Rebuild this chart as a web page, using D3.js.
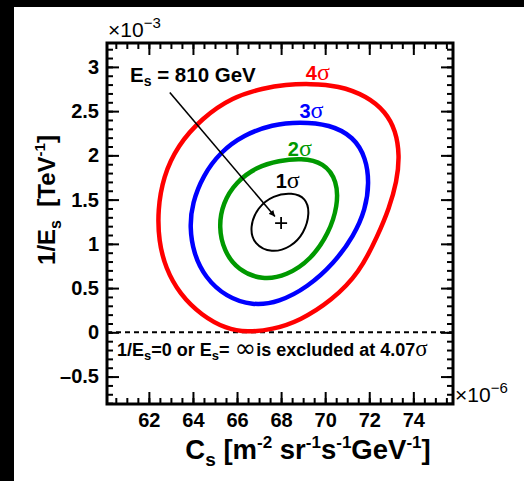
<!DOCTYPE html>
<html>
<head>
<meta charset="utf-8">
<script src="https://cdn.jsdelivr.net/npm/d3@7"></script>
<style>
  body { margin: 0; background: #000; }
  svg { display: block; }
  text { font-family: "Liberation Sans", Arial, sans-serif; }
</style>
</head>
<body>
<svg width="524" height="481"></svg>
<script>
// contour points: [C_s (1e-6), 1/E_s (1e-3)]
const sigma4 = [
  [69.3, 2.81], [68.2, 2.80], [67.2, 2.76], [65.8, 2.66], [64.4, 2.42], [63.3, 2.11],
  [62.65, 1.76], [62.4, 1.38], [62.45, 1.03], [62.75, 0.73], [63.4, 0.43],
  [64.4, 0.19], [65.5, 0.04], [66.45, 0.0], [67.6, 0.03], [68.85, 0.13],
  [70.3, 0.36], [71.55, 0.67], [72.4, 1.10], [72.9, 1.40], [73.25, 1.70],
  [73.38, 2.0], [73.2, 2.28], [72.75, 2.49], [71.9, 2.67], [70.6, 2.79]
];
const sigma3 = [
  [68.85, 2.38], [67.6, 2.35], [66.3, 2.23], [65.25, 2.04], [64.45, 1.77],
  [63.97, 1.46], [63.85, 1.19], [64.03, 0.89], [64.55, 0.62], [65.5, 0.40],
  [66.7, 0.30], [67.9, 0.34], [69.2, 0.51], [70.4, 0.78], [71.3, 1.09],
  [71.83, 1.39], [72.0, 1.69], [71.85, 1.97], [71.3, 2.21], [70.2, 2.35]
];
const sigma2 = [
  [68.9, 1.97], [67.9, 1.94], [66.9, 1.87], [65.95, 1.70], [65.35, 1.46],
  [65.17, 1.19], [65.4, 0.92], [66.05, 0.70], [67.15, 0.59], [68.25, 0.64],
  [69.35, 0.82], [70.17, 1.12], [70.57, 1.43], [70.55, 1.71], [69.95, 1.92]
];
const sigma1 = [
  [68.5, 1.58], [67.64, 1.55], [66.92, 1.41], [66.57, 1.19], [66.77, 0.99],
  [67.57, 0.895], [68.44, 0.96], [69.05, 1.12], [69.31, 1.35], [69.12, 1.52]
];
const bestFit = [68.0, 1.235];
const arrowFrom = [62.95, 2.71];
const arrowTo = [67.72, 1.31];

const contours = [
  { pts: sigma4, color: "#ff0000", width: 4.5, label: "4", at: [69.67, 2.85] },
  { pts: sigma3, color: "#0000ff", width: 4.5, label: "3", at: [69.38, 2.42] },
  { pts: sigma2, color: "#009900", width: 4.5, label: "2", at: [68.85, 1.99] },
  { pts: sigma1, color: "#000000", width: 2, label: "1", at: [68.3, 1.63] }
];

const xMajor = [62, 64, 66, 68, 70, 72, 74];
const yMajor = [-0.5, 0, 0.5, 1, 1.5, 2, 2.5, 3];
const xMinor = d3.range(60.5, 75.8, 0.5);
const yMinor = d3.range(-0.8, 3.27, 0.1).map(v => +v.toFixed(1));

const svg = d3.select("svg");
svg.append("rect").attr("x", 14).attr("y", 7).attr("width", 510).attr("height", 474).attr("fill", "#fff");

const L = 107, R = 453, T = 43, B = 404;
const x = d3.scaleLinear().domain([60.1, 75.8]).range([L, R]);
const y = d3.scaleLinear().domain([-0.81, 3.27]).range([B, T]);

// dashed zero line
svg.append("line")
  .attr("x1", L).attr("x2", R).attr("y1", y(0)).attr("y2", y(0))
  .attr("stroke", "#000").attr("stroke-width", 2).attr("stroke-dasharray", "5,4");

// contours
const line = d3.line().x(d => x(d[0])).y(d => y(d[1])).curve(d3.curveBasisClosed);
contours.forEach(c => {
  svg.append("path").attr("d", line(c.pts))
    .attr("fill", "none").attr("stroke", c.color).attr("stroke-width", c.width);
  const t = svg.append("text")
    .attr("x", x(c.at[0])).attr("y", y(c.at[1]))
    .attr("text-anchor", "middle").attr("fill", c.color)
    .attr("font-size", 20).attr("font-weight", "bold");
  t.append("tspan").text(c.label);
  t.append("tspan").attr("font-family", "Liberation Serif, serif").attr("font-weight", "normal").attr("font-size", 24).text("σ");
});

// best fit marker
const cx = x(bestFit[0]), cy = y(bestFit[1]);
svg.append("path").attr("d", `M${cx - 6},${cy}H${cx + 6}M${cx},${cy - 6}V${cy + 6}`)
  .attr("stroke", "#000").attr("stroke-width", 1.8);

// arrow
svg.append("defs").append("marker").attr("id", "ah")
  .attr("viewBox", "0 0 10 10").attr("refX", 10).attr("refY", 5)
  .attr("markerWidth", 8).attr("markerHeight", 6).attr("markerUnits", "userSpaceOnUse")
  .attr("orient", "auto")
  .append("path").attr("d", "M0,0L10,5L0,10z").attr("fill", "#000");
svg.append("line")
  .attr("x1", x(arrowFrom[0])).attr("y1", y(arrowFrom[1]))
  .attr("x2", x(arrowTo[0])).attr("y2", y(arrowTo[1]))
  .attr("stroke", "#000").attr("stroke-width", 1.6).attr("marker-end", "url(#ah)");

// annotation texts
const es = svg.append("text").attr("x", 130).attr("y", 82).attr("font-size", 20.5).attr("font-weight", "bold");
es.append("tspan").text("E");
es.append("tspan").attr("font-size", 14).attr("dy", 4).text("s");
es.append("tspan").attr("dy", -4).text(" = 810 GeV");

const ex = svg.append("text").attr("x", 117).attr("y", 356).attr("font-size", 18).attr("font-weight", "bold")
  .attr("xml:space", "preserve");
ex.append("tspan").text("1/E");
ex.append("tspan").attr("font-size", 13).attr("dy", 4).text("s");
ex.append("tspan").attr("dy", -4).text("=0 or E");
ex.append("tspan").attr("font-size", 13).attr("dy", 4).text("s");
ex.append("tspan").attr("dy", -4).text("= ");
ex.append("tspan").attr("font-family", "DejaVu Sans").attr("font-weight", "normal").attr("font-size", 26).attr("dy", 1).text("∞");
ex.append("tspan").attr("dy", -1).text("is excluded at 4.07");
ex.append("tspan").attr("font-family", "Liberation Serif, serif").attr("font-weight", "normal").attr("font-size", 23).text("σ");

// axes: ticks pointing inward on all four sides
function ticks(axis, vals, len) {
  return axis.tickValues(vals).tickSize(-len).tickFormat("");
}
const g = svg.append("g");
g.append("g").attr("transform", `translate(0,${B})`).call(ticks(d3.axisBottom(x), xMinor, 6));
g.append("g").attr("transform", `translate(0,${B})`).call(ticks(d3.axisBottom(x), xMajor, 12));
g.append("g").attr("transform", `translate(0,${T})`).call(ticks(d3.axisTop(x), xMinor, 6));
g.append("g").attr("transform", `translate(0,${T})`).call(ticks(d3.axisTop(x), xMajor, 12));
g.append("g").attr("transform", `translate(${L},0)`).call(ticks(d3.axisLeft(y), yMinor, 6));
g.append("g").attr("transform", `translate(${L},0)`).call(ticks(d3.axisLeft(y), yMajor, 12));
g.append("g").attr("transform", `translate(${R},0)`).call(ticks(d3.axisRight(y), yMinor, 6));
g.append("g").attr("transform", `translate(${R},0)`).call(ticks(d3.axisRight(y), yMajor, 12));
g.selectAll(".domain").remove();
g.selectAll(".tick line").attr("stroke", "#000").attr("stroke-width", 2);

// tick labels
const xl = svg.append("g").attr("transform", `translate(0,${B})`)
  .call(d3.axisBottom(x).tickValues(xMajor).tickSize(0).tickPadding(9).tickFormat(d3.format("d")));
const yl = svg.append("g").attr("transform", `translate(${L},0)`)
  .call(d3.axisLeft(y).tickValues(yMajor).tickSize(0).tickPadding(8)
    .tickFormat(d => d < 0 ? "–" + Math.abs(d) : String(d)));
[xl, yl].forEach(a => {
  a.select(".domain").remove();
  a.selectAll("text").attr("font-family", "Liberation Sans, Arial, sans-serif")
    .attr("font-size", 20).attr("font-weight", "bold").attr("fill", "#000");
});

// frame
svg.append("rect").attr("x", L).attr("y", T).attr("width", R - L).attr("height", B - T)
  .attr("fill", "none").attr("stroke", "#000").attr("stroke-width", 3);

// exponent labels
const e3 = svg.append("text").attr("x", 108).attr("y", 37).attr("font-size", 21);
e3.append("tspan").text("×10");
e3.append("tspan").attr("font-size", 15).attr("dy", -9).text("−3");
const e6 = svg.append("text").attr("x", 455).attr("y", 402).attr("font-size", 21);
e6.append("tspan").text("×10");
e6.append("tspan").attr("font-size", 15).attr("dy", -9).text("−6");

// axis titles
const xt = svg.append("text").attr("x", 308).attr("y", 459).attr("text-anchor", "middle")
  .attr("font-size", 27.5).attr("font-weight", "bold");
xt.append("tspan").text("C");
xt.append("tspan").attr("font-size", 19).attr("dy", 7).text("s");
xt.append("tspan").attr("dy", -7).text(" [m");
xt.append("tspan").attr("font-size", 17).attr("dy", -11).text("-2");
xt.append("tspan").attr("dy", 11).text(" sr");
xt.append("tspan").attr("font-size", 17).attr("dy", -11).text("-1");
xt.append("tspan").attr("dy", 11).text("s");
xt.append("tspan").attr("font-size", 17).attr("dy", -11).text("-1");
xt.append("tspan").attr("dy", 11).text("GeV");
xt.append("tspan").attr("font-size", 17).attr("dy", -11).text("-1");
xt.append("tspan").attr("dy", 11).text("]");

const yt = svg.append("text").attr("transform", "translate(55,200) rotate(-90)")
  .attr("text-anchor", "middle").attr("font-size", 24).attr("font-weight", "bold")
  .attr("xml:space", "preserve");
yt.append("tspan").text("1/E");
yt.append("tspan").attr("font-size", 16).attr("dy", 6).text("s");
yt.append("tspan").attr("dy", -6).text("  [TeV");
yt.append("tspan").attr("font-size", 15).attr("dy", -10).text("-1");
yt.append("tspan").attr("dy", 10).text("]");
</script>
</body>
</html>
